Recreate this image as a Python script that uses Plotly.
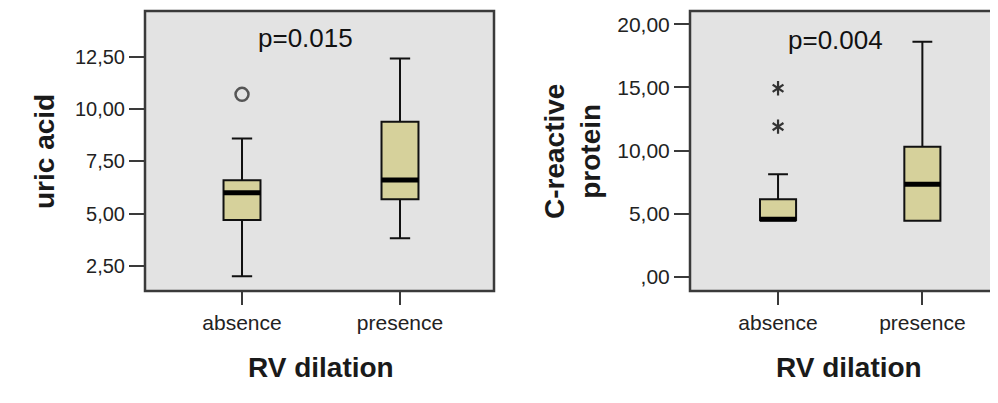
import plotly.graph_objects as go

# ---------------- data ----------------
categories = ["absence", "presence"]

# uric acid (left panel)
ua_q1 = [4.70, 5.69]
ua_median = [6.00, 6.61]
ua_q3 = [6.60, 9.40]
ua_lower = [2.01, 3.82]
ua_upper = [8.60, 12.43]
ua_outlier_cat = [0]
ua_outlier_val = [10.71]
ua_ticks = [2.5, 5.0, 7.5, 10.0, 12.5]
ua_ticklabels = ["2,50", "5,00", "7,50", "10,00", "12,50"]
ua_p = "p=0.015"

# C-reactive protein (right panel)
crp_q1 = [4.48, 4.44]
crp_median = [4.55, 7.32]
crp_q3 = [6.13, 10.30]
crp_lower = [4.48, 4.44]
crp_upper = [8.11, 18.62]
crp_extreme_cat = [0, 0]
crp_extreme_val = [14.93, 11.89]
crp_ticks = [0, 5, 10, 15, 20]
crp_ticklabels = [",00", "5,00", "10,00", "15,00", "20,00"]
crp_p = "p=0.004"

# ---------------- style ----------------
OFF = 8                      # default page body margin
W, H = 998 - OFF, 403 - OFF


def xp(px):
    return (px - OFF) / W


def yp(py):
    return 1 - (py - OFF) / H


BOX_FILL = "#d6d19b"
BG = "#e3e3e3"
LINE = "#111111"
AXC = "#3a3a3a"
TICKFONT = dict(family="Liberation Sans, Arial", size=20, color="#222222")
XTICKFONT = dict(family="Liberation Sans, Arial", size=21, color="#222222")
TITLEFONT = dict(family="Liberation Sans, Arial", size=28, color="#1a1a1a")
PFONT = dict(family="Liberation Sans, Arial", size=26, color="#111111")

pos = list(range(len(categories)))

fig = go.Figure()


def add_panel(xa, ya, q1, med, q3, lo, up, width):
    fig.add_trace(go.Box(
        x=pos, q1=q1, median=med, q3=q3, lowerfence=lo, upperfence=up,
        width=width, whiskerwidth=0.55, boxpoints=False,
        fillcolor=BOX_FILL, line=dict(color=LINE, width=2),
        xaxis=xa, yaxis=ya, showlegend=False, hoverinfo="skip"))
    mx, my = [], []
    for p, m in zip(pos, med):
        mx += [p - width / 2, p + width / 2, None]
        my += [m, m, None]
    fig.add_trace(go.Scatter(x=mx, y=my, mode="lines",
                             line=dict(color="#000000", width=5),
                             xaxis=xa, yaxis=ya, showlegend=False,
                             hoverinfo="skip"))


add_panel("x", "y", ua_q1, ua_median, ua_q3, ua_lower, ua_upper, 0.234)
add_panel("x2", "y2", crp_q1, crp_median, crp_q3, crp_lower, crp_upper, 0.25)

# outlier (circle)
fig.add_trace(go.Scatter(
    x=ua_outlier_cat, y=ua_outlier_val, mode="markers",
    marker=dict(symbol="circle-open", size=13, color="#555555",
                line=dict(width=2.5, color="#555555")),
    xaxis="x", yaxis="y", showlegend=False, hoverinfo="skip"))

# extremes (asterisks)
for sym in ["y-up-open", "y-down-open"]:
    fig.add_trace(go.Scatter(
        x=crp_extreme_cat, y=crp_extreme_val, mode="markers",
        marker=dict(symbol=sym, size=9, color="#333333",
                    line=dict(width=2.2, color="#333333")),
        xaxis="x2", yaxis="y2", showlegend=False, hoverinfo="skip"))

ydom = [yp(291), yp(11)]

common_x = dict(tickvals=pos, ticktext=categories, showgrid=False,
                zeroline=False, showline=False, ticks="outside", ticklen=13,
                tickwidth=2, tickcolor=AXC, tickfont=XTICKFONT, fixedrange=True)
common_y = dict(showgrid=False, zeroline=False, showline=False,
                ticks="outside", ticklen=15, tickwidth=2, tickcolor=AXC,
                tickfont=TICKFONT, fixedrange=True)

fig.update_layout(
    width=W, height=H,
    margin=dict(l=0, r=0, t=0, b=0),
    paper_bgcolor="white", plot_bgcolor=BG,
    xaxis=dict(domain=[xp(145), xp(494)], range=[-0.614, 1.595], anchor="y",
               **common_x),
    yaxis=dict(domain=ydom, range=[1.30, 14.70], anchor="x",
               tickvals=ua_ticks, ticktext=ua_ticklabels, **common_y),
    xaxis2=dict(domain=[xp(690), 1.0], range=[-0.61, 1.524], anchor="y2",
                **common_x),
    yaxis2=dict(domain=ydom, range=[-1.13, 21.05], anchor="x2",
                tickvals=crp_ticks, ticktext=crp_ticklabels,
                **dict(common_y, tickfont=dict(TICKFONT, size=21))),
    shapes=[
        dict(type="rect", xref="x domain", yref="y domain", x0=0, x1=1,
             y0=0, y1=1, line=dict(color=AXC, width=2.5)),
        dict(type="rect", xref="x2 domain", yref="y2 domain", x0=0, x1=1.1,
             y0=0, y1=1, line=dict(color=AXC, width=2.5)),
    ],
    annotations=[
        dict(text=ua_p, x=xp(305), y=yp(38), xref="paper", yref="paper",
             showarrow=False, font=PFONT, xanchor="center", yanchor="middle"),
        dict(text=crp_p, x=xp(835), y=yp(40), xref="paper", yref="paper",
             showarrow=False, font=PFONT, xanchor="center", yanchor="middle"),
        dict(text="<b>uric acid</b>", x=xp(45), y=yp(152), xref="paper",
             yref="paper", showarrow=False, textangle=-90, font=TITLEFONT,
             xanchor="center", yanchor="middle"),
        dict(text="<b>C-reactive<br>protein</b>", x=xp(573), y=yp(152),
             xref="paper", yref="paper", showarrow=False, textangle=-90,
             font=TITLEFONT, xanchor="center", yanchor="middle"),
        dict(text="<b>RV dilation</b>", x=xp(321), y=yp(367),
             xref="paper", yref="paper", showarrow=False, font=TITLEFONT,
             xanchor="center", yanchor="middle"),
        dict(text="<b>RV dilation</b>", x=xp(849), y=yp(367),
             xref="paper", yref="paper", showarrow=False, font=TITLEFONT,
             xanchor="center", yanchor="middle"),
    ],
)

fig.write_html("out.html", config=dict(displayModeBar=False))
